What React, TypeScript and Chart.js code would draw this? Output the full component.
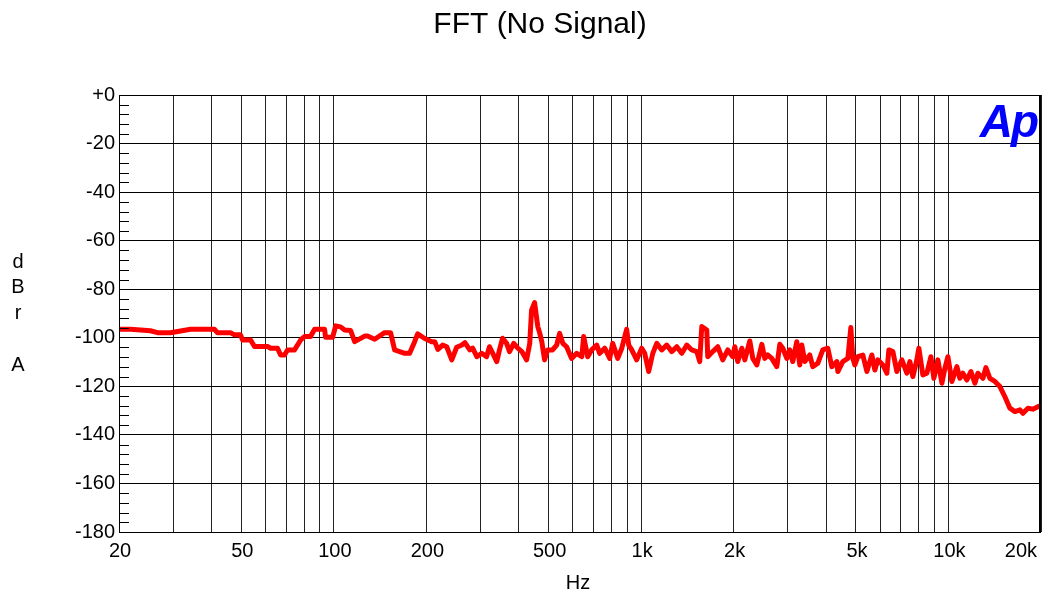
import React, { useEffect, useRef } from "react";
import { Chart, registerables } from "chart.js";

Chart.register(...registerables);

// ---- data ----
const freqs = [
  20, 21.8, 25.3, 26.7, 29.4, 34.2, 40.9, 41.8, 46.1, 47.5, 49.7, 50.5, 53.6, 55.2, 60.9, 62.3, 65.6,
  67.1, 69.1, 70.7, 74.5, 78, 80.3, 84, 86.6, 93.3, 94, 99.1, 101.4, 105.2, 108.4, 113.4, 116.9, 126,
  128.8, 135.8, 146.3, 153, 157.7, 170, 176.5, 183.2, 187.4,
  197, 208, 213, 218, 226, 233, 242, 251, 261, 267, 277, 283, 292, 303, 314, 321, 329, 339, 346, 354,
  365, 373, 385, 397, 409, 424, 434, 440, 450, 461, 468, 475, 485, 496, 515, 531, 543, 556, 572, 594,
  617, 641, 650, 670, 690, 717, 733, 761, 790, 808, 839, 865, 897, 911, 932, 967, 1004, 1027, 1058,
  1091, 1124, 1167, 1211, 1258, 1306, 1356, 1408, 1461, 1517, 1551, 1575, 1635, 1647, 1710, 1776,
  1843, 1914, 1987,
  2017, 2062, 2126, 2174, 2257, 2308, 2379, 2470, 2525, 2582, 2661, 2763, 2826, 2890, 2978, 3045,
  3114, 3209, 3282, 3332, 3408, 3537, 3618, 3756, 3899, 4049, 4173, 4333, 4365, 4531, 4704, 4812,
  4885, 4959, 5070, 5264, 5426, 5632, 5760, 5890, 6116, 6302, 6397, 6592, 6792, 7052, 7321, 7488,
  7657, 7889, 8009, 8253, 8504, 8763, 8964, 9236, 9518, 9734, 9956, 10258, 10650, 10890, 11138,
  11476, 11826, 12186, 12464, 12942, 13234, 13638, 14158, 14698, 15258, 15842, 16448, 17076, 17466,
  18134, 18822, 19542, 20000,
];

const levels = [
  -96.5, -96.5, -97.1, -97.9, -97.9, -96.5, -96.5, -97.9, -97.9, -98.8, -98.8, -100.9, -100.9, -103.6,
  -103.6, -104.3, -104.3, -107.1, -107.1, -105, -105, -100.9, -99.5, -99.5, -96.5, -96.5, -99.8, -99.8,
  -95.1, -95.5, -96.8, -97, -101.6, -99.3, -99.3, -100.6, -97.9, -97.9, -105, -106.4, -106.4, -101.6,
  -98.4,
  -100.2, -101.6, -101.6, -104.8, -103, -103.7, -109.1, -103.9, -103, -102, -105, -104.3, -107.8,
  -106.4, -107.8, -103.7, -106.4, -109.8, -105, -100.2, -102.3, -105.7, -102.3, -104.3, -105.7, -109.1,
  -102.3, -88.6, -85.5, -95.4, -98.2, -101.6, -109.1, -105, -105, -103, -98.2, -102.3, -103.7, -108.5,
  -106.4, -107.8, -99.5, -107.8, -105, -103, -106.4, -104.3, -108.5, -102.3, -108.5, -104.3, -96.5,
  -103, -105, -109.1, -104.3, -106.4, -113.9, -106.4, -102.3, -105, -103, -105.7, -103.7, -106.4, -103,
  -105, -105.7, -109.8, -95.4, -96.8, -107.8, -105.7, -103.7, -109.1, -105, -107.8,
  -103.7, -109.8, -104.3, -109.1, -101.3, -108.5, -111.2, -102.7, -108.5, -107.1, -108.5, -111.9,
  -102.7, -104.3, -108.5, -105, -109.8, -101.6, -111.2, -103, -109.8, -107.1, -111.9, -110.5, -105,
  -104.3, -111.9, -109.8, -113.9, -109.8, -108.5, -95.8, -108.5, -111.2, -107.8, -107.1, -113.9, -107.1,
  -113.3, -109.1, -111.2, -114.6, -105, -105.7, -113.9, -109.1, -114.6, -109.8, -116, -109.1, -104.3,
  -115.3, -114.6, -107.8, -116.7, -109.1, -118.7, -112.6, -107.8, -118, -111.9, -116.7, -114.6, -117.4,
  -113.9, -118.7, -114.6, -116.7, -112.3, -116.7, -118, -120.1, -124.3, -129, -130.4, -129.7, -131.1,
  -129, -129.4, -128.4, -128,
];

const xGridValues = [
  20, 30, 40, 50, 60, 70, 80, 90, 100, 200, 300, 400, 500, 600, 700, 800, 900, 1000, 2000, 3000, 4000,
  5000, 6000, 7000, 8000, 9000, 10000, 20000,
];
const xLabelValues = [20, 50, 100, 200, 500, 1000, 2000, 5000, 10000, 20000];
const xLabelTexts = ["20", "50", "100", "200", "500", "1k", "2k", "5k", "10k", "20k"];
const yTickValues = [-180, -160, -140, -120, -100, -80, -60, -40, -20, 0];
const yMinorValues = [
  -176, -172, -168, -164, -156, -152, -148, -144, -136, -132, -128, -124, -116, -112, -108, -104, -96,
  -92, -88, -84, -76, -72, -68, -64, -56, -52, -48, -44, -36, -32, -28, -24, -16, -12, -8, -4,
];
const yAxisLetters = ["d", "B", "r", "", "A"];

const FONT = '"Liberation Sans", Arial, Helvetica, sans-serif';

const overlay = {
  id: "overlay",
  afterDraw(chart: any) {
    const { ctx, chartArea } = chart;
    const { left, right, top, bottom } = chartArea;
    const x = chart.scales.x;
    const y = chart.scales.y;
    ctx.save();
    // frame
    ctx.strokeStyle = "#000";
    ctx.lineWidth = 1;
    ctx.beginPath();
    ctx.moveTo(left + 0.5, top + 0.5);
    ctx.lineTo(right, top + 0.5);
    ctx.moveTo(left + 0.5, top);
    ctx.lineTo(left + 0.5, bottom + 1);
    ctx.moveTo(left, bottom + 0.5);
    ctx.lineTo(right, bottom + 0.5);
    ctx.stroke();
    ctx.lineWidth = 2;
    ctx.beginPath();
    ctx.moveTo(right - 1, top);
    ctx.lineTo(right - 1, bottom + 1);
    ctx.stroke();
    // minor y ticks (inward)
    ctx.lineWidth = 1;
    ctx.beginPath();
    yMinorValues.forEach((v) => {
      const py = Math.round(y.getPixelForValue(v)) + 0.5;
      ctx.moveTo(left, py);
      ctx.lineTo(left + 10, py);
    });
    ctx.stroke();
    // x labels
    ctx.fillStyle = "#000";
    ctx.font = `20px ${FONT}`;
    ctx.textBaseline = "middle";
    xLabelValues.forEach((v, i) => {
      const px = x.getPixelForValue(v);
      if (i === xLabelValues.length - 1) {
        ctx.textAlign = "right";
        ctx.fillText(xLabelTexts[i], px - 4, 551);
      } else {
        ctx.textAlign = "center";
        ctx.fillText(xLabelTexts[i], px + 1, 551);
      }
    });
    // axis titles
    ctx.textAlign = "center";
    ctx.fillText("Hz", (left + right) / 2 - 2, 583);
    yAxisLetters.forEach((c, i) => {
      if (c) ctx.fillText(c, 18, 262 + i * 25.8);
    });
    // title
    ctx.font = `30px ${FONT}`;
    ctx.fillText("FFT (No Signal)", 540, 25);
    // Ap logo
    ctx.fillStyle = "#0000FF";
    ctx.font = `italic bold 46px ${FONT}`;
    ctx.textAlign = "right";
    ctx.textBaseline = "alphabetic";
    try {
      (ctx as any).letterSpacing = "-2px";
    } catch (e) {}
    ctx.fillText("Ap", 1037, 137);
    ctx.restore();
  },
};

export default function App() {
  const ref = useRef<HTMLCanvasElement | null>(null);
  useEffect(() => {
    if (!ref.current) return;
    const chart = new Chart(ref.current, {
      type: "line",
      data: {
        datasets: [
          {
            data: freqs.map((f, i) => ({ x: f, y: levels[i] })),
            borderColor: "#FF0000",
            borderWidth: 5,
            pointRadius: 0,
            borderJoinStyle: "round",
            borderCapStyle: "round",
            tension: 0,
            fill: false,
          },
        ],
      },
      options: {
        responsive: false,
        animation: false,
        devicePixelRatio: 1,
        layout: { padding: { left: 0, right: 2, top: 95, bottom: 0 } },
        plugins: { legend: { display: false }, title: { display: false }, tooltip: { enabled: false } },
        scales: {
          x: {
            type: "logarithmic",
            min: 20,
            max: 20000,
            afterBuildTicks: (s: any) => {
              s.ticks = xGridValues.map((v) => ({ value: v }));
            },
            afterFit: (s: any) => {
              s.height = 63;
            },
            ticks: { display: false },
            grid: { color: "#222", lineWidth: 1, drawTicks: false },
            border: { display: false },
          },
          y: {
            type: "linear",
            min: -180,
            max: 0,
            afterBuildTicks: (s: any) => {
              s.ticks = yTickValues.map((v) => ({ value: v }));
            },
            afterFit: (s: any) => {
              s.width = 119;
            },
            ticks: {
              color: "#000",
              font: { family: FONT, size: 20 },
              padding: 4,
              callback: (v: any) => (Number(v) === 0 ? "+0" : String(v)),
            },
            grid: { color: "#000", lineWidth: 1, drawTicks: false },
            border: { display: false },
          },
        },
      },
      plugins: [overlay],
    });
    return () => chart.destroy();
  }, []);
  return (
    <div style={{ position: "fixed", left: 0, top: 0, width: 1043, height: 595, background: "#fff" }}>
      <canvas ref={ref} width={1043} height={595} style={{ display: "block" }} />
    </div>
  );
}
